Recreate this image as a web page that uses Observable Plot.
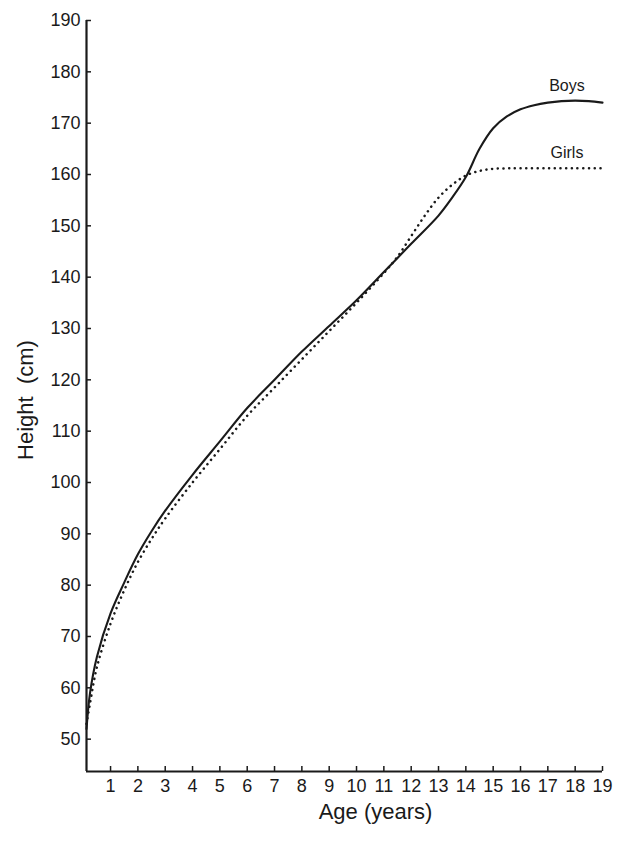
<!DOCTYPE html>
<html>
<head>
<meta charset="utf-8">
<script src="https://cdn.jsdelivr.net/npm/d3@7"></script>
<script src="https://cdn.jsdelivr.net/npm/@observablehq/plot@0.6"></script>
<style>
  html, body { margin: 0; padding: 0; background: #fff; }
  #chart { width: 624px; height: 841px; }
  svg { font-family: "Liberation Sans", Arial, sans-serif; }
</style>
</head>
<body>
<div id="chart"></div>
<script>
// Ages (years) and heights (cm)
const boysAge    = [0.12, 0.25, 0.5, 1, 1.5, 2, 2.5, 3, 4, 5, 6, 7, 8, 9, 10, 11, 12, 13, 13.5, 14, 14.5, 15, 15.5, 16, 16.5, 17, 17.5, 18, 18.5, 19];
const boysHeight = [52, 59, 66, 74.5, 80.5, 86, 90.5, 94.5, 101.5, 108, 114.5, 120, 125.5, 130.5, 135.5, 141, 146.5, 152, 155.5, 159.5, 165, 169, 171.3, 172.7, 173.5, 174, 174.3, 174.4, 174.3, 174];
const girlsAge    = [0.12, 0.25, 0.5, 1, 1.5, 2, 2.5, 3, 4, 5, 6, 7, 8, 9, 10, 11, 11.5, 12, 12.5, 13, 13.5, 14, 14.5, 15, 15.5, 16, 17, 18, 19];
const girlsHeight = [53, 57, 64, 72.5, 79, 84.5, 89, 93, 100, 106.5, 113, 118.5, 124, 129.5, 135, 140.8, 144, 148, 152, 155.5, 158, 159.8, 160.7, 161.1, 161.2, 161.2, 161.2, 161.2, 161.2];

const xTicks = [1,2,3,4,5,6,7,8,9,10,11,12,13,14,15,16,17,18,19];
const yTicks = [50,60,70,80,90,100,110,120,130,140,150,160,170,180,190];
const xDomain = [0.12, 19];
const yDomain = [43.7, 190];

const seriesNames = ["Boys", "Girls"];
const labelAges = [17.7, 17.7];

const boys = boysAge.map((a, i) => ({age: a, h: boysHeight[i]}));
const girls = girlsAge.map((a, i) => ({age: a, h: girlsHeight[i]}));

function valueAt(series, age) {
  for (let i = 1; i < series.length; i++) {
    if (series[i].age >= age) {
      const a = series[i-1], b = series[i];
      const t = (age - a.age) / (b.age - a.age);
      return a.h + t * (b.h - a.h);
    }
  }
  return series[series.length-1].h;
}
const labels = [
  {name: seriesNames[0], age: labelAges[0], h: valueAt(boys, labelAges[0])},
  {name: seriesNames[1], age: labelAges[1], h: valueAt(girls, labelAges[1])}
];

const W = 624, H = 841;
const mL = 86, mR = 22, mT = 20, mB = 70;
const plotW = W - mL - mR, plotH = H - mT - mB;
const ink = "#1a1a1a";

const chart = Plot.plot({
  width: W,
  height: H,
  marginLeft: mL,
  marginRight: mR,
  marginTop: mT,
  marginBottom: mB,
  style: {fontFamily: "Liberation Sans, Arial, sans-serif", color: ink, background: "#fff", fontSize: "18px"},
  x: {domain: xDomain},
  y: {domain: yDomain},
  marks: [
    Plot.axisX(xTicks, {tickSize: 0, tickPadding: 8, fontSize: 18, label: null, fill: ink}),
    Plot.axisY(yTicks, {tickSize: 0, tickPadding: 6, fontSize: 18, label: null, fill: ink}),
    // inward ticks
    Plot.tickX(xTicks, {x: d => d, insetTop: plotH - 5, stroke: ink, strokeWidth: 1.5}),
    Plot.tickY(yTicks, {y: d => d, insetRight: plotW - 5, stroke: ink, strokeWidth: 1.5}),
    // axis lines
    Plot.ruleX([xDomain[0]], {stroke: ink, strokeWidth: 2.2}),
    Plot.ruleY([yDomain[0]], {stroke: ink, strokeWidth: 2.2}),
    // curves
    Plot.line(girls, {x: "age", y: "h", curve: "catmull-rom", stroke: ink, strokeWidth: 2.5, strokeDasharray: "0.1,5.6", strokeLinecap: "round"}),
    Plot.line(boys, {x: "age", y: "h", curve: "catmull-rom", stroke: ink, strokeWidth: 2.1}),
    // series labels
    Plot.text(labels, {x: "age", y: "h", text: "name", dy: -15, fontSize: 16, fill: ink}),
    // axis titles
    Plot.text(["Age (years)"], {frameAnchor: "bottom", dx: 31, dy: 47, fontSize: 22, fill: ink}),
    Plot.text(["Height  (cm)"], {frameAnchor: "left", textAnchor: "middle", dx: -61, dy: 4, rotate: -90, fontSize: 22, fill: ink})
  ]
});
document.getElementById("chart").appendChild(chart);
</script>
</body>
</html>
